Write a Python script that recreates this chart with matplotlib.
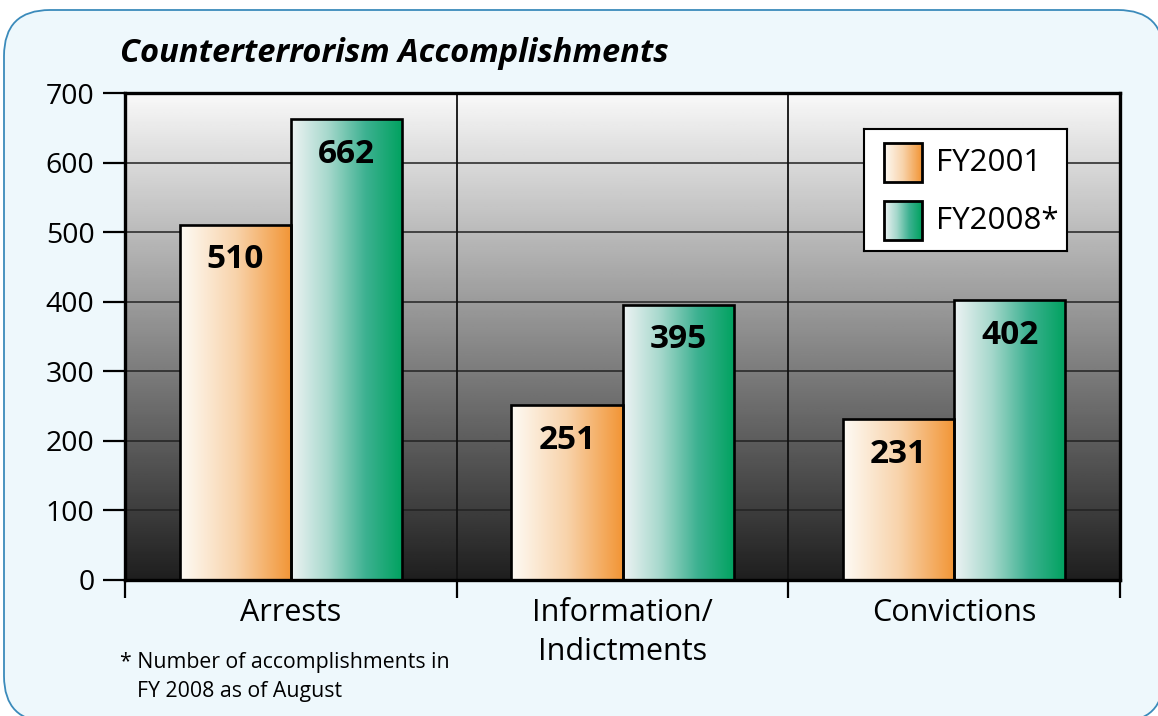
import numpy as np
import matplotlib
matplotlib.use("Agg")
import matplotlib.pyplot as plt
from matplotlib.patches import FancyBboxPatch, Rectangle
from matplotlib.colors import to_rgb

# ---- data ----
categories = ["Arrests", "Information/\nIndictments", "Convictions"]
series_names = ["FY2001", "FY2008*"]
fy2001 = [510, 251, 231]
fy2008 = [662, 395, 402]
y_ticks = [0, 100, 200, 300, 400, 500, 600, 700]
title = "Counterterrorism Accomplishments"
footnote_1 = "* Number of accomplishments in"
footnote_2 = "FY 2008 as of August"

FONT = "Open Sans"
plt.rcParams["font.family"] = [FONT, "DejaVu Sans"]

orange_stops = ["#fefbf5", "#f8d3ab", "#f29535"]
green_stops = ["#eef3f4", "#a6d8cc", "#3db191", "#00a25f"]


def gradient_row(stops, n=256):
    cols = np.array([to_rgb(c) for c in stops])
    pos = np.linspace(0, 1, len(stops))
    t = np.linspace(0, 1, n)
    return np.stack([np.interp(t, pos, cols[:, k]) for k in range(3)], axis=-1)[None, :, :]


W, H = 1158, 716
fig = plt.figure(figsize=(W / 100, H / 100), dpi=100)
fig.patch.set_facecolor("white")

# rounded background box (pixel-coordinate axes)
bgax = fig.add_axes([0, 0, 1, 1])
bgax.set_zorder(-1)
bgax.set_xlim(0, W)
bgax.set_ylim(H, 0)
bgax.axis("off")
bgax.add_patch(FancyBboxPatch((4, 10), 1160, 712,
                              boxstyle="round,pad=0,rounding_size=46",
                              facecolor="#eef8fc", edgecolor="#3b8bbb",
                              linewidth=1.3))

ax = fig.add_axes([125 / W, 1 - 580 / H, (1120 - 125) / W, (580 - 93) / H])
ax.set_zorder(2)
ax.set_xlim(0, 3)
ax.set_ylim(0, 700)
ax.patch.set_alpha(0)

# plot-area gradient (light top -> dark bottom)
vals = np.linspace(0.12, 0.975, 256)[:, None]
bg = np.repeat(vals, 2, axis=1)
ax.imshow(bg, extent=[0, 1, 0, 1], transform=ax.transAxes, origin="lower",
          cmap="gray", vmin=0, vmax=1, aspect="auto", zorder=0)

# grid
for yv in y_ticks[1:-1]:
    ax.axhline(yv, color="#222222", lw=1.1, zorder=1)
for xv in [1, 2]:
    ax.axvline(xv, color="#111111", lw=1.3, zorder=1)

centers = np.arange(len(categories)) + 0.5
bw = 0.335
grads = [gradient_row(orange_stops), gradient_row(green_stops)]
for si, (vals_s, offs) in enumerate([(fy2001, -bw / 2), (fy2008, bw / 2)]):
    bars = ax.bar(centers + offs, vals_s, width=bw, facecolor="none",
                  edgecolor="black", linewidth=1.9, zorder=4)
    for b, v in zip(bars, vals_s):
        x0, w, h = b.get_x(), b.get_width(), b.get_height()
        ax.imshow(grads[si], extent=[x0, x0 + w, 0, h], aspect="auto",
                  zorder=3, interpolation="bilinear")
        ax.text(x0 + w / 2, v - 50, str(v), ha="center", va="center",
                fontsize=24, fontweight="bold", color="black", zorder=5)
ax.set_xlim(0, 3)
ax.set_ylim(0, 700)

for s in ax.spines.values():
    s.set_linewidth(2.4)
    s.set_color("black")
    s.set_zorder(6)

ax.set_yticks(y_ticks)
ax.set_yticklabels([str(v) for v in y_ticks], fontsize=20.5)
ax.tick_params(axis="y", length=16, width=1.6, pad=6, direction="out")
ax.set_xticks([0, 1, 2, 3])
ax.set_xticklabels([])
ax.tick_params(axis="x", which="major", length=13, width=1.6, direction="out")
ax.set_xticks(centers, minor=True)
ax.set_xticklabels(categories, minor=True, fontsize=22, linespacing=1.4)
ax.tick_params(axis="x", which="minor", length=0, pad=13)

# title
fig.text(120 / W, 1 - 62 / H, title, fontsize=23.5, fontweight="bold",
         fontstyle="italic", ha="left", va="baseline")

# footnote
fig.text(120 / W, 1 - 668 / H, footnote_1, fontsize=15.3, ha="left", va="baseline")
fig.text(137 / W, 1 - 697 / H, footnote_2, fontsize=15.3, ha="left", va="baseline")

# legend
lax = fig.add_axes([864 / W, 1 - 251 / H, (1067 - 864) / W, (251 - 129) / H])
lax.set_zorder(5)
lax.set_xlim(0, 203)
lax.set_ylim(122, 0)
lax.set_xticks([])
lax.set_yticks([])
lax.set_facecolor("white")
for s in lax.spines.values():
    s.set_linewidth(1.5)
    s.set_color("black")
for i, name in enumerate(series_names):
    y0 = 14 + i * 58
    lax.imshow(grads[i], extent=[20, 58, y0 + 39, y0], aspect="auto", zorder=2)
    lax.add_patch(Rectangle((20, y0), 38, 39, facecolor="none",
                            edgecolor="black", lw=2.0, zorder=3))
    lax.text(72, y0 + 20, name, fontsize=22.5, ha="left", va="center")
lax.set_xlim(0, 203)
lax.set_ylim(122, 0)

fig.savefig("out.png", dpi=100)
